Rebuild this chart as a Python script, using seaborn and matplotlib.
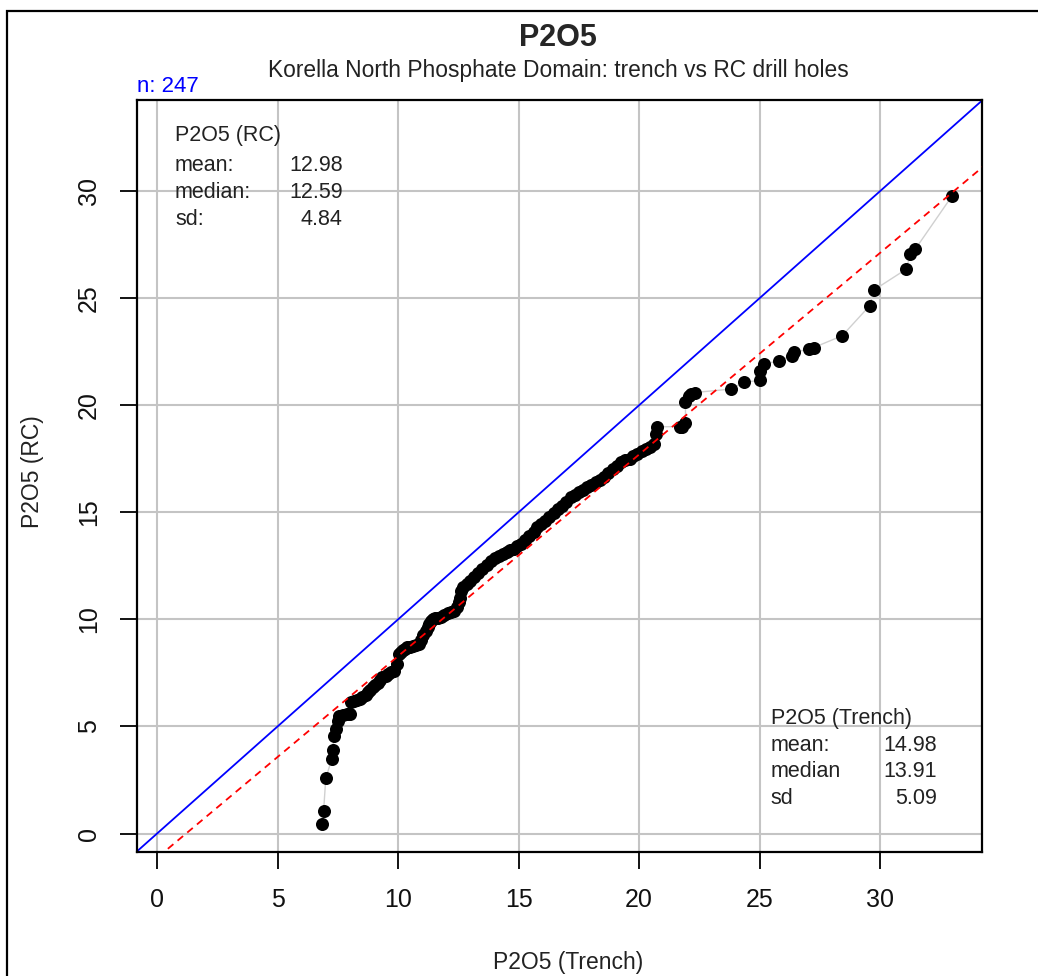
import matplotlib
matplotlib.use('Agg')
import matplotlib.pyplot as plt
import numpy as np
import pandas as pd
import seaborn as sns
from matplotlib.patches import Rectangle

sns.set_theme(style='white')
plt.rcParams['font.family'] = ['Liberation Sans', 'DejaVu Sans']

# quantile pairs (trench on x, RC on y)
trench_q = [6.83, 6.91, 7.00, 7.25, 7.28, 7.35, 7.42, 7.50, 7.56, 7.70,
            7.90, 8.01, 8.04, 8.18, 8.30, 8.42, 8.52, 8.65, 8.75, 8.85,
            8.94, 9.05, 9.15, 9.25, 9.35, 9.48, 9.60, 9.72, 9.84, 9.95,
            10.04, 10.12, 10.20, 10.30, 10.39, 10.50, 10.60, 10.75, 10.87, 10.95,
            11.05, 11.15, 11.22, 11.30, 11.36, 11.45, 11.55, 11.66, 11.77, 11.90,
            12.05, 12.18, 12.32, 12.45, 12.52, 12.55, 12.60, 12.70, 12.85, 13.00,
            13.15, 13.32, 13.50, 13.67, 13.84, 14.02, 14.20, 14.36, 14.53, 14.66,
            14.80, 14.95, 15.09, 15.27, 15.45, 15.62, 15.78, 15.94, 16.10, 16.28,
            16.47, 16.64, 16.80, 16.98, 17.16, 17.33, 17.50, 17.68, 17.85, 18.02,
            18.20, 18.37, 18.54, 18.72, 18.90, 19.06, 19.23, 19.42, 19.60, 19.76,
            19.92, 20.10, 20.30, 20.45, 20.61, 20.68, 20.75, 21.70, 21.79, 21.92,
            21.92, 22.06, 22.13, 22.30, 23.79, 24.34, 25.03, 25.03, 25.17, 25.79,
            26.34, 26.41, 27.03, 27.24, 28.42, 29.56, 29.73, 31.08, 31.25, 31.45,
            32.98]
rc_q = [0.45, 1.04, 2.58, 3.48, 3.90, 4.57, 4.89, 5.25, 5.50, 5.55,
        5.57, 5.59, 6.13, 6.20, 6.25, 6.30, 6.36, 6.48, 6.60, 6.72,
        6.83, 6.95, 7.05, 7.17, 7.29, 7.37, 7.45, 7.53, 7.61, 7.90,
        8.38, 8.47, 8.55, 8.62, 8.69, 8.72, 8.75, 8.80, 8.85, 9.05,
        9.25, 9.45, 9.63, 9.80, 9.94, 10.00, 10.05, 10.07, 10.09, 10.20,
        10.30, 10.36, 10.41, 10.60, 10.80, 11.00, 11.34, 11.50, 11.65, 11.80,
        11.96, 12.15, 12.35, 12.55, 12.74, 12.85, 12.95, 13.04, 13.13, 13.22,
        13.30, 13.41, 13.52, 13.71, 13.90, 14.10, 14.29, 14.45, 14.60, 14.78,
        14.95, 15.13, 15.30, 15.50, 15.69, 15.82, 15.95, 16.05, 16.16, 16.28,
        16.40, 16.52, 16.63, 16.82, 17.00, 17.17, 17.33, 17.42, 17.50, 17.61,
        17.72, 17.84, 17.95, 18.07, 18.18, 18.65, 18.99, 19.00, 18.96, 19.19,
        20.13, 20.45, 20.52, 20.59, 20.75, 21.06, 21.17, 21.60, 21.92, 22.07,
        22.31, 22.46, 22.62, 22.69, 23.24, 24.64, 25.37, 26.35, 27.08, 27.28,
        29.77]

n_samples = 247
rc_stats = ['12.98', '12.59', '4.84']
trench_stats = ['14.98', '13.91', '5.09']
rc_stat_names = ['mean:', 'median:', 'sd:']
trench_stat_names = ['mean:', 'median', 'sd']

# fitted line through the quantiles (red dashed)
fit_slope = 0.9417
fit_intercept = -1.134
fit_x_start = 0.45

ticks = [0, 5, 10, 15, 20, 25, 30]
x_lim = (-0.83, 34.22)
y_lim = (-0.86, 34.27)

df = pd.DataFrame({'trench': trench_q, 'rc': rc_q})

W, H = 1038, 976
fig = plt.figure(figsize=(W / 100, H / 100), dpi=100)
ax = fig.add_axes([137 / W, (H - 852) / H, 845 / W, 752.5 / H])

for t in ticks:
    ax.axvline(t, color='#c4c4c4', lw=1.5, zorder=0)
    ax.axhline(t, color='#c4c4c4', lw=1.5, zorder=0)

ax.axline((0, 0), slope=1, color='#0000ff', lw=1.3, zorder=2)
fx = np.array([fit_x_start, x_lim[1] + 1])
ax.plot(fx, fit_intercept + fit_slope * fx, color='#ff0000', lw=1.3,
        dashes=(4, 3), zorder=4)

sns.lineplot(data=df, x='trench', y='rc', sort=False, color='#d0d0d0',
             lw=1, ax=ax, zorder=1, estimator=None)
sns.scatterplot(data=df, x='trench', y='rc', color='black', s=88,
                linewidth=0, ax=ax, zorder=3)

ax.set_xlim(*x_lim)
ax.set_ylim(*y_lim)
ax.set_xticks(ticks)
ax.set_yticks(ticks)
ax.set_xlabel('')
ax.set_ylabel('')
ax.tick_params(axis='both', which='both', direction='out', length=12, width=1.3,
               color='black', labelsize=18, pad=14, bottom=True, left=True,
               labelcolor='#111111')
for lbl in ax.get_yticklabels():
    lbl.set_rotation(90)
    lbl.set_va('center')
for sp in ax.spines.values():
    sp.set_color('black')
    sp.set_linewidth(1.6)

# stats blocks
ax.text(0.045, 0.952, 'P2O5 (RC)', transform=ax.transAxes, fontsize=15.5,
        va='center', ha='left', color='#222222')
for i, (name, val) in enumerate(zip(rc_stat_names, rc_stats)):
    yy = 0.912 - i * 0.0355
    ax.text(0.045, yy, name, transform=ax.transAxes, fontsize=15.5,
            va='center', ha='left', color='#222222')
    ax.text(0.2435, yy, val, transform=ax.transAxes, fontsize=15.5,
            va='center', ha='right', color='#222222')

ax.text(0.750, 0.178, 'P2O5 (Trench)', transform=ax.transAxes, fontsize=15.5,
        va='center', ha='left', color='#222222')
for i, (name, val) in enumerate(zip(trench_stat_names, trench_stats)):
    yy = 0.142 - i * 0.0355
    ax.text(0.750, yy, name, transform=ax.transAxes, fontsize=15.5,
            va='center', ha='left', color='#222222')
    ax.text(0.947, yy, val, transform=ax.transAxes, fontsize=15.5,
            va='center', ha='right', color='#222222')

fig.text(558 / W, 1 - 37.5 / H, 'P2O5', fontsize=22, fontweight='bold',
         ha='center', va='center')
fig.text(558 / W, 1 - 70 / H,
         'Korella North Phosphate Domain: trench vs RC drill holes',
         fontsize=16.4, ha='center', va='center', color='#222222')
fig.text(137 / W, 1 - 87 / H, f'n: {n_samples}', fontsize=16, color='#0000ff',
         ha='left', va='center')
fig.text(568 / W, 1 - 963 / H, 'P2O5 (Trench)', fontsize=16.5,
         ha='center', va='center', color='#222222')
fig.text(32 / W, 1 - 472 / H, 'P2O5 (RC)', fontsize=16.5, rotation=90,
         ha='center', va='center', color='#222222')

# outer frame of the original export
fig.patches.append(Rectangle((7 / W, -0.1), 1.2, 1.1 - 11.5 / H,
                             transform=fig.transFigure, fill=False,
                             edgecolor='black', lw=1.6))

fig.savefig('out.png', dpi=100)
